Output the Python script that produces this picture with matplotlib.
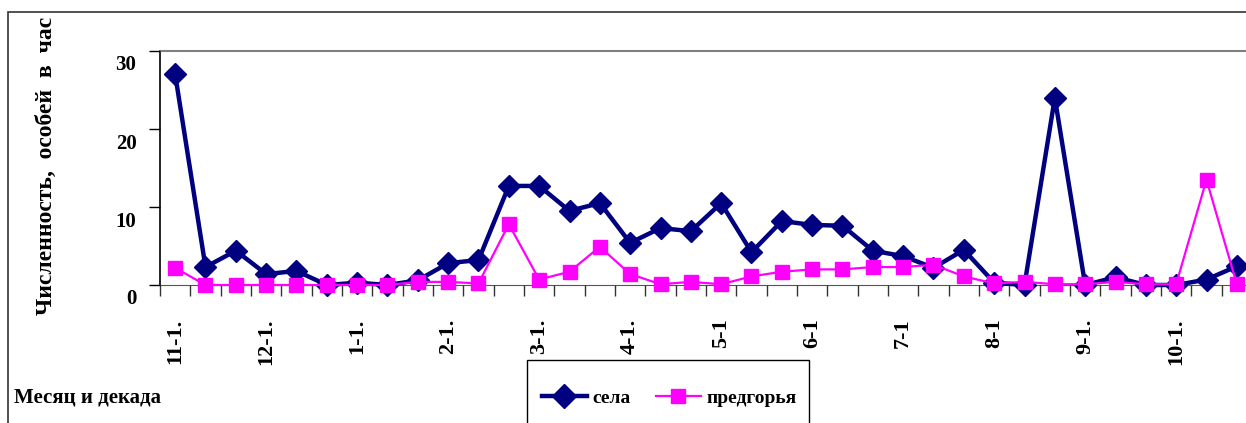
"""Численность по декадам: села vs предгорья."""

import matplotlib

matplotlib.use("Agg")
import matplotlib.pyplot as plt  # noqa: E402
import matplotlib.transforms as mtransforms  # noqa: E402
import numpy as np  # noqa: E402
from matplotlib.patches import Rectangle  # noqa: E402

plt.rcParams["font.family"] = ["Liberation Serif", "DejaVu Serif"]
plt.rcParams["font.weight"] = "bold"

# 36 decades, Nov..Oct; only the first decade of each month is labelled
MONTH_LABELS = ["11-1.", "12-1.", "1-1.", "2-1.", "3-1.", "4-1.",
                "5-1", "6-1", "7-1", "8-1", "9-1.", "10-1."]
N_DECADES = 36

SELA = [27.0, 2.3, 4.4, 1.4, 1.8, 0.0, 0.3, 0.0, 0.6, 2.8, 3.2, 12.7,
        12.7, 9.5, 10.5, 5.4, 7.3, 6.9, 10.5, 4.2, 8.2, 7.7, 7.6, 4.4,
        3.7, 2.2, 4.5, 0.3, 0.0, 24.0, 0.0, 1.0, 0.0, 0.0, 0.7, 2.4]
PREDGORYA = [2.2, 0.0, 0.0, 0.0, 0.0, 0.0, 0.0, 0.0, 0.4, 0.4, 0.2, 7.8,
             0.7, 1.7, 4.9, 1.4, 0.1, 0.4, 0.1, 1.1, 1.7, 2.0, 2.0, 2.3,
             2.3, 2.6, 1.1, 0.2, 0.4, 0.1, 0.1, 0.4, 0.1, 0.1, 13.5, 0.1]

NAVY = "#000080"
MAGENTA = "#ff00ff"

W, H = 1246, 423
fig = plt.figure(figsize=(W / 100, H / 100), dpi=100)

# outer chart-area border (cut by the image edges on right/bottom)
fig.patches.append(Rectangle((8 / W, -0.1), 1.2, 1 - 12 / H + 0.1,
                             transform=fig.transFigure, fill=False,
                             edgecolor="#333333", lw=1.2))
# legend box, also running off the bottom edge
fig.patches.append(Rectangle((527 / W, -0.1), 282 / W, 1 - 360 / H + 0.1,
                             transform=fig.transFigure, fill=False,
                             edgecolor="black", lw=1.0))

ax = fig.add_axes([160 / W, 1 - 285 / H, 1092 / W, 234 / H])
x = np.arange(N_DECADES)

ax.plot(x, SELA, color=NAVY, lw=3.2, marker="D", ms=11.5, zorder=3,
        label="села")
ax.plot(x, PREDGORYA, color=MAGENTA, lw=1.6, marker="s", ms=9.5, zorder=4,
        label="предгорья")

ax.set_xlim(-0.5, N_DECADES - 0.5)
ax.set_ylim(0, 30)
ax.set_yticks([0, 10, 20, 30])
ax.set_xticks(np.arange(0, N_DECADES, 3))
ax.set_xticklabels(MONTH_LABELS, rotation=90, fontsize=16)
ax.set_xticks(np.arange(-0.5, N_DECADES, 1), minor=True)
ax.tick_params(axis="x", which="major", length=0, pad=24)
ax.tick_params(axis="x", which="minor", length=8, width=1, color="#333333",
               direction="out")
ax.tick_params(axis="y", length=8, width=1, pad=9, labelsize=15,
               direction="out")

# the y labels sit a little below their ticks in the original
off = mtransforms.ScaledTranslation(0, -0.12, fig.dpi_scale_trans)
for lab in ax.get_yticklabels():
    lab.set_transform(lab.get_transform() + off)

ax.spines["right"].set_visible(False)
ax.spines["top"].set_color("#808080")
ax.spines["top"].set_linewidth(1.5)
ax.spines["bottom"].set_color("#555555")
ax.spines["left"].set_color("black")
ax.spines["left"].set_linewidth(1.2)
for sp in ax.spines.values():
    sp.set_zorder(1)
for ln in ax.lines:
    ln.set_clip_on(False)

fig.text(46 / W, 1 - 166 / H, "Численность,  особей  в  час", rotation=90,
         ha="center", va="center", fontsize=17, fontweight="bold")
fig.text(14 / W, 1 - 397 / H, "Месяц и декада", ha="left", va="center",
         fontsize=15, fontweight="bold")

fig.legend(loc="center left", bbox_to_anchor=(542 / W, 1 - 398 / H),
           ncol=2, frameon=False, fontsize=14, handlelength=2.3,
           columnspacing=1.3, borderpad=0, handletextpad=0.3,
           borderaxespad=0, markerscale=1.1)

fig.savefig("out.png", dpi=100)
